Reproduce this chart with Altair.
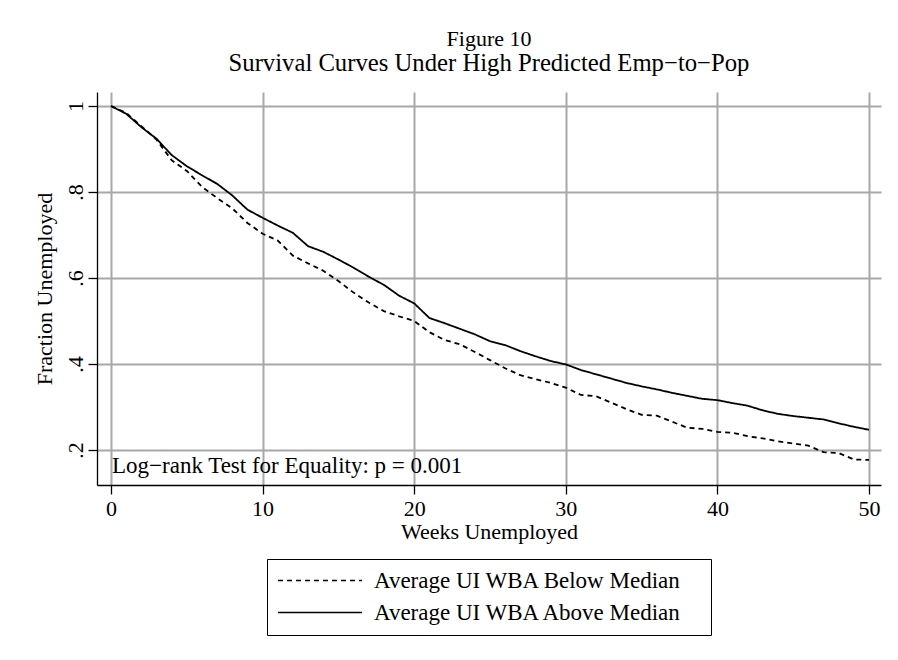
import altair as alt
import pandas as pd

# ---- data ----
weeks = list(range(51))
below = [1.0, 0.984, 0.953, 0.922, 0.874, 0.849, 0.812, 0.786, 0.762, 0.728,
         0.703, 0.687, 0.652, 0.634, 0.617, 0.593, 0.566, 0.543, 0.523, 0.511,
         0.5, 0.474, 0.456, 0.446, 0.428, 0.409, 0.39, 0.374, 0.365, 0.356,
         0.345, 0.328, 0.325, 0.31, 0.295, 0.282, 0.28, 0.266, 0.252, 0.249,
         0.242, 0.24, 0.232, 0.227, 0.22, 0.215, 0.21, 0.195, 0.193, 0.178,
         0.177]
above = [1.0, 0.982, 0.951, 0.924, 0.886, 0.86, 0.839, 0.819, 0.792, 0.759,
         0.74, 0.722, 0.705, 0.674, 0.661, 0.643, 0.624, 0.603, 0.584, 0.559,
         0.541, 0.507, 0.495, 0.482, 0.469, 0.453, 0.444, 0.43, 0.418, 0.407,
         0.399, 0.386, 0.376, 0.366, 0.356, 0.348, 0.341, 0.333, 0.326, 0.319,
         0.316, 0.309, 0.303, 0.292, 0.284, 0.279, 0.275, 0.271, 0.262, 0.254,
         0.247]
series_names = ["Average UI WBA Below Median", "Average UI WBA Above Median"]
x_ticks = [0, 10, 20, 30, 40, 50]
y_ticks = [0.2, 0.4, 0.6, 0.8, 1.0]
note_text = ["Log\u2212rank Test for Equality: p = 0.001"]
note_x = [0]
note_y = [0.163]
title_text = "Figure 10"
subtitle_text = "Survival Curves Under High Predicted Emp\u2212to\u2212Pop"

rows = []
for w, b, a in zip(weeks, below, above):
    rows.append({"week": w, "frac": b, "group": series_names[0]})
    rows.append({"week": w, "frac": a, "group": series_names[1]})
df = pd.DataFrame(rows)
note_df = pd.DataFrame({"x": note_x, "y": note_y, "t": note_text})

FONT = "Liberation Serif"
FS = 22

x_scale = alt.Scale(domain=[-0.923, 50.79], nice=False, zero=False)
y_scale = alt.Scale(domain=[0.1186, 1.0326], nice=False, zero=False)

x_axis = alt.Axis(values=x_ticks, title="Weeks Unemployed", format="d",
                  tickSize=9, labelPadding=4, titlePadding=2)
y_axis = alt.Axis(values=y_ticks, title="Fraction Unemployed",
                  labelExpr="datum.value == 1 ? '1' : replace(format(datum.value, '.1f'), '0.', '.')",
                  labelAngle=270, labelAlign="center", labelBaseline="alphabetic",
                  tickSize=9, labelPadding=6, titlePadding=8)

lines = alt.Chart(df).mark_line(color="black", strokeWidth=1.8, clip=True).encode(
    x=alt.X("week:Q", scale=x_scale, axis=x_axis),
    y=alt.Y("frac:Q", scale=y_scale, axis=y_axis),
    strokeDash=alt.StrokeDash(
        "group:N",
        scale=alt.Scale(domain=series_names, range=[[5, 4], [1, 0]]),
        legend=alt.Legend(
            title=None,
            orient="none", legendX=170, legendY=467,
            direction="vertical",
            # stroke sample 84px long; trailing move-to widens the legend frame
            symbolType="M-1,0H7M38.9,0", symbolSize=441, symbolStrokeWidth=1.6,
            symbolStrokeColor="black",
            labelFont=FONT, labelFontSize=23, labelColor="black",
            labelOffset=74, labelLimit=0,
            padding=10, rowPadding=8,
            strokeColor="black", fillColor="white", cornerRadius=0,
        ),
    ),
    order="week:Q",
)

note = alt.Chart(note_df).mark_text(
    align="left", baseline="middle", font=FONT, fontSize=23, dx=1, color="black"
).encode(
    x=alt.X("x:Q", scale=x_scale),
    y=alt.Y("y:Q", scale=y_scale),
    text="t:N",
)

chart = alt.layer(lines, note).properties(
    width=784,
    height=393,
    background="white",
    autosize=alt.AutoSizeParams(type="none"),
    padding={"left": 89, "top": 84, "right": 9, "bottom": 162},
    title=alt.TitleParams(
        text=title_text, subtitle=subtitle_text,
        font=FONT, fontSize=22, fontWeight="normal", color="black",
        subtitleFont=FONT, subtitleFontSize=24.7, subtitleColor="black",
        subtitleFontWeight="normal", subtitlePadding=0,
        anchor="middle", offset=15,
    ),
).configure_view(stroke="transparent").configure_axis(
    domainColor="black", domainWidth=1.3, tickColor="black", tickWidth=1.3,
    gridColor="#a8a8a8", gridWidth=2,
    labelFont=FONT, labelFontSize=FS, labelColor="black",
    titleFont=FONT, titleFontSize=FS, titleColor="black", titleFontWeight="normal",
)

chart.save("out.html", embed_options={"renderer": "svg", "actions": False})
